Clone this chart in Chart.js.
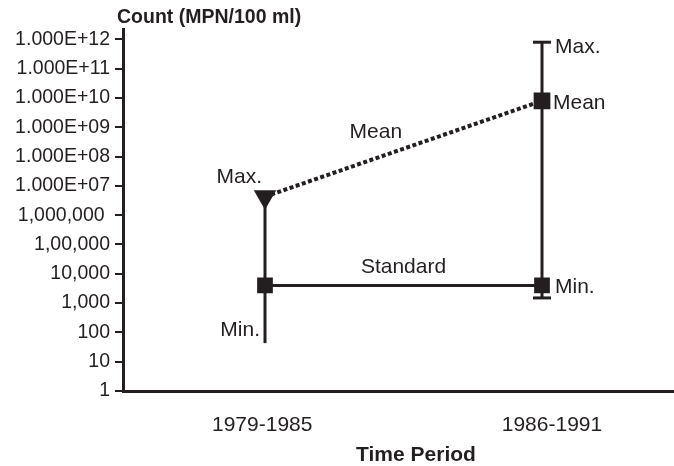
<!DOCTYPE html>
<html>
<head>
<meta charset="utf-8">
<script src="https://cdn.jsdelivr.net/npm/chart.js@4"></script>
<style>
  html, body { margin: 0; padding: 0; background: #fff; }
  #wrap { width: 674px; height: 466px; }
</style>
</head>
<body>
<div id="wrap"><canvas id="chart" width="674" height="466"></canvas></div>
<script>
////////////////////////////////// data /////////////////////////////////////////
const periods = ['1979-1985', '1986-1991'];
const periodX = [1, 2];
const periodTickX = [0.99, 2.036];       // where the period names sit under the axis
const maxVals = [4.3e6, 8e11];
const minVals = [43, 1.5e3];
const meanVals = [4.3e6, 8e9];
const standardVals = [4e3, 4e3];
const yTickVals = [1, 10, 100, 1e3, 1e4, 1e5, 1e6, 1e7, 1e8, 1e9, 1e10, 1e11, 1e12];
const yTickLabels = ['1', '10', '100', '1,000', '10,000', '1,00,000', '1,000,000 ',
  '1.000E+07', '1.000E+08', '1.000E+09', '1.000E+10', '1.000E+11', '1.000E+12'];

const ink = '#231f20';
const font = 'Liberation Sans, Arial, sans-serif';

// text written on the chart
const textPlugin = {
  id: 'chartText',
  afterDraw(chart) {
    const ctx = chart.ctx;
    const xs = chart.scales.x, ys = chart.scales.y;
    const px = i => xs.getPixelForValue(periodX[i]);
    ctx.save();
    ctx.fillStyle = ink;
    ctx.textBaseline = 'middle';

    // titles
    ctx.font = 'bold 19.5px ' + font;
    ctx.textAlign = 'left';
    ctx.fillText('Count (MPN/100 ml)', 117, 18);
    ctx.font = 'bold 21px ' + font;
    ctx.textAlign = 'center';
    ctx.fillText('Time Period', 416, 455);

    ctx.font = '21px ' + font;
    // left period
    ctx.textAlign = 'right';
    ctx.fillText('Max.', px(0) - 3, ys.getPixelForValue(maxVals[0]) - 19);
    ctx.fillText('Min.', px(0) - 5, ys.getPixelForValue(minVals[0]) - 13);
    // right period
    ctx.textAlign = 'left';
    ctx.fillText('Max.', px(1) + 13, ys.getPixelForValue(maxVals[1]) + 5);
    ctx.fillText('Mean', px(1) + 11, ys.getPixelForValue(meanVals[1]) + 2);
    ctx.fillText('Min.', px(1) + 13, ys.getPixelForValue(minVals[1]) - 11);
    // line names
    ctx.textAlign = 'center';
    const mx = px(0) + 0.4 * (px(1) - px(0));
    const my = ys.getPixelForValue(meanVals[0]) +
      0.4 * (ys.getPixelForValue(meanVals[1]) - ys.getPixelForValue(meanVals[0]));
    ctx.fillText('Mean', mx, my - 26);
    ctx.fillText('Standard', (px(0) + px(1)) / 2, ys.getPixelForValue(standardVals[0]) - 18);
    ctx.restore();
  }
};

const rangeSets = periodX.map((x, i) => ({
  data: [{ x: x, y: minVals[i] }, { x: x, y: maxVals[i] }],
  showLine: true,
  borderColor: ink,
  borderWidth: 3,
  pointRadius: 0
}));

new Chart(document.getElementById('chart'), {
  type: 'scatter',
  data: {
    datasets: [
      ...rangeSets,
      {
        // mean (dotted)
        data: periodX.map((x, i) => ({ x: x, y: meanVals[i] })),
        showLine: true,
        borderColor: ink,
        borderWidth: 4,
        borderDash: [4, 2.5],
        borderCapStyle: 'butt',
        pointStyle: 'rect',
        pointRadius: [0, 9],
        backgroundColor: ink,
        pointBorderColor: ink
      },
      {
        // standard
        data: periodX.map((x, i) => ({ x: x, y: standardVals[i] })),
        showLine: true,
        borderColor: ink,
        borderWidth: 3,
        pointStyle: 'rect',
        pointRadius: 9,
        backgroundColor: ink,
        pointBorderColor: ink
      },
      {
        // max markers
        data: periodX.map((x, i) => ({ x: x, y: maxVals[i] })),
        pointStyle: ['triangle', 'line'],
        rotation: [180, 0],
        pointRadius: [10, 9],
        pointBorderWidth: 3,
        backgroundColor: ink,
        pointBorderColor: ink
      },
      {
        // min markers
        data: periodX.map((x, i) => ({ x: x, y: minVals[i] })),
        pointStyle: 'line',
        pointRadius: [0, 9],
        pointBorderWidth: 3,
        pointBorderColor: ink
      }
    ]
  },
  options: {
    responsive: false,
    animation: false,
    layout: { autoPadding: false, padding: { top: 29, left: 0, right: 0, bottom: 0 } },
    plugins: { legend: { display: false }, tooltip: { enabled: false } },
    scales: {
      x: {
        type: 'linear',
        min: 0.4874,
        max: 2.4765,
        afterBuildTicks: scale => { scale.ticks = periodTickX.map(v => ({ value: v })); },
        afterFit: scale => { scale.height = 75; },
        grid: { display: false, drawTicks: false },
        border: { color: ink, width: 3 },
        ticks: {
          padding: 22,
          color: ink,
          font: { family: font, size: 21 },
          callback: (v, i) => periods[i]
        }
      },
      y: {
        type: 'logarithmic',
        min: 1,
        max: 2.26e12,
        afterBuildTicks: scale => { scale.ticks = yTickVals.map(v => ({ value: v })); },
        afterFit: scale => { scale.width = 123; },
        grid: { drawOnChartArea: false, color: ink, lineWidth: 2, tickLength: 8 },
        border: { color: ink, width: 3 },
        ticks: {
          padding: 5,
          color: ink,
          font: { family: font, size: 19.5 },
          autoSkip: false,
          callback: (v, i) => yTickLabels[i]
        }
      }
    }
  },
  plugins: [textPlugin]
});
</script>
</body>
</html>
